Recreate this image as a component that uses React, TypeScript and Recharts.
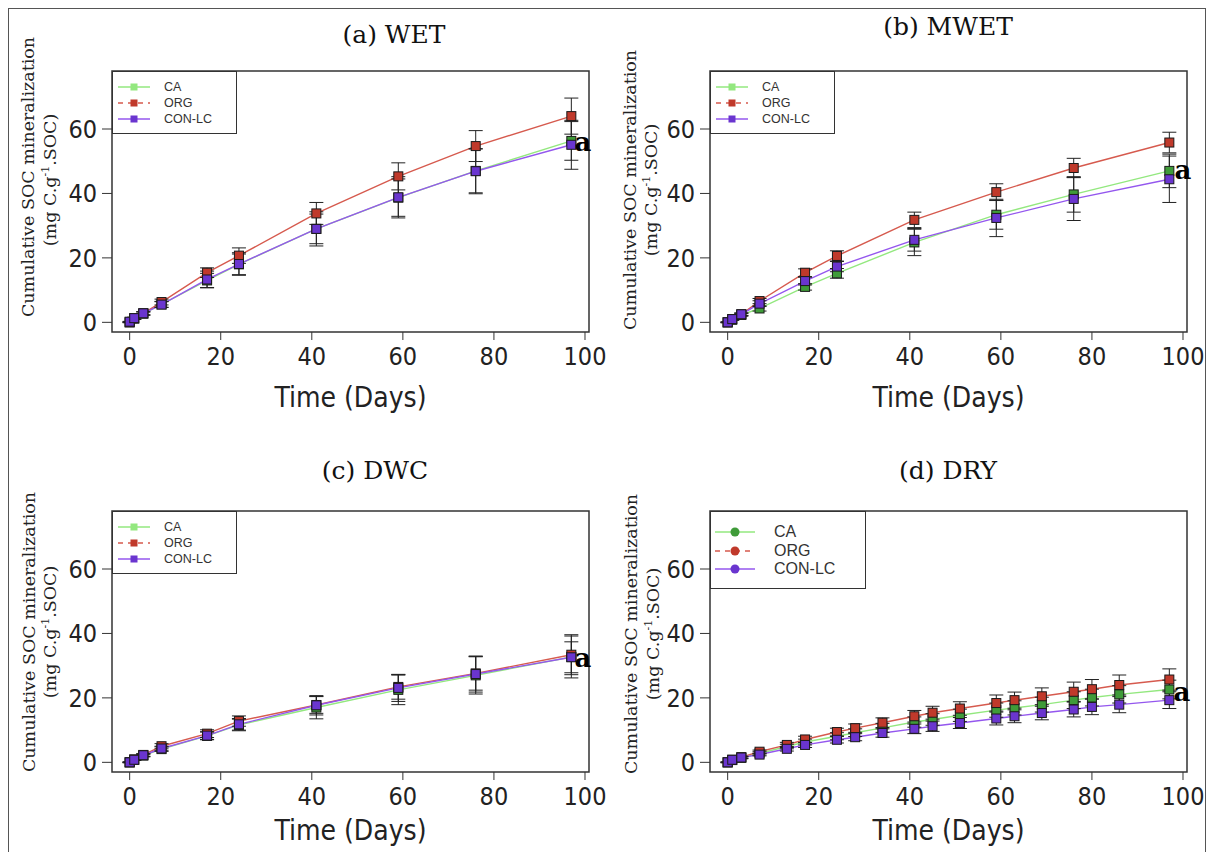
// Cumulative SOC mineralization — four panels (WET, MWET, DWC, DRY)
import React from 'react';
import { LineChart, Line, XAxis, YAxis, ErrorBar, ReferenceArea } from 'recharts';

const DAYS = [0, 1, 3, 7, 17, 24, 41, 59, 76, 97];
const DAYS_DRY = [0, 1, 3, 7, 13, 17, 24, 28, 34, 41, 45, 51, 59, 63, 69, 76, 80, 86, 97];
const X_TICKS = [0, 20, 40, 60, 80, 100];
const Y_TICKS = [0, 20, 40, 60];
const SERIES = ['CA', 'ORG', 'CON-LC'];

// (a) WET
const WET_CA = [0, 1.2, 2.7, 5.6, 13.0, 18.0, 29.0, 38.7, 47.0, 56.3];
const WET_ORG = [0, 1.2, 2.8, 6.3, 15.4, 20.7, 33.8, 45.3, 54.7, 64.0];
const WET_CON = [0.2, 1.3, 2.8, 5.5, 13.3, 18.1, 29.0, 38.8, 46.9, 55.1];
const WET_CA_ERR = [0.1, 0.3, 0.5, 0.9, 2.2, 3.2, 4.6, 5.8, 6.8, 6.0];
const WET_ORG_ERR = [0.1, 0.3, 0.5, 0.9, 1.5, 2.4, 3.4, 4.2, 4.8, 5.6];
const WET_CON_ERR = [0.1, 0.3, 0.5, 0.9, 2.6, 3.5, 5.3, 6.4, 7.0, 7.6];

// (b) MWET
const MWET_CA = [0, 0.8, 2.3, 4.3, 11.0, 15.2, 24.8, 33.4, 39.7, 47.0];
const MWET_ORG = [0, 1.0, 2.5, 6.6, 15.4, 20.6, 31.8, 40.4, 47.9, 55.8];
const MWET_CON = [0, 1.0, 2.5, 5.8, 12.8, 17.3, 25.6, 32.4, 38.3, 44.4];
const MWET_CA_ERR = [0.1, 0.2, 0.4, 0.8, 1.0, 1.5, 4.1, 4.5, 5.5, 5.2];
const MWET_ORG_ERR = [0.1, 0.2, 0.4, 0.8, 1.2, 1.6, 2.4, 2.6, 3.0, 3.2];
const MWET_CON_ERR = [0.1, 0.2, 0.4, 0.9, 1.2, 1.6, 3.5, 5.8, 6.7, 7.2];

// (c) DWC
const DWC_CA = [0, 0.8, 2.1, 4.1, 8.2, 11.6, 17.0, 22.5, 27.0, 32.7];
const DWC_ORG = [0, 0.9, 2.3, 5.0, 8.9, 12.8, 17.8, 23.4, 27.6, 33.4];
const DWC_CON = [0, 0.8, 2.2, 4.3, 8.3, 11.8, 17.7, 23.1, 27.4, 32.6];
const DWC_CA_ERR = [0.1, 0.2, 0.4, 0.7, 1.2, 1.8, 3.5, 4.6, 5.8, 6.5];
const DWC_ORG_ERR = [0.1, 0.2, 0.4, 0.8, 1.2, 1.6, 2.6, 3.8, 5.2, 6.2];
const DWC_CON_ERR = [0.1, 0.2, 0.4, 0.7, 1.2, 1.8, 3.0, 4.2, 5.6, 4.8];

// (d) DRY
const DRY_CA = [0, 0.7, 1.4, 2.8, 4.9, 6.3, 8.1, 9.2, 10.7, 12.5, 13.3, 14.6, 16.2, 16.9, 17.9, 19.3, 20.1, 21.1, 22.6];
const DRY_ORG = [0, 0.8, 1.6, 3.3, 5.4, 7.1, 9.4, 10.6, 12.3, 14.3, 15.4, 16.7, 18.4, 19.3, 20.5, 21.9, 22.7, 24.0, 25.7];
const DRY_CON = [0, 0.8, 1.5, 2.4, 4.2, 5.4, 7.0, 7.8, 9.1, 10.4, 11.2, 12.2, 13.6, 14.3, 15.3, 16.4, 17.2, 17.9, 19.3];
const DRY_CA_ERR = [0.1, 0.2, 0.3, 0.5, 0.7, 0.9, 1.1, 1.2, 1.4, 1.6, 1.8, 1.9, 2.2, 2.2, 2.3, 2.6, 2.6, 2.7, 2.9];
const DRY_ORG_ERR = [0.1, 0.2, 0.3, 0.5, 0.8, 1.0, 1.2, 1.3, 1.5, 1.8, 2.0, 2.1, 2.5, 2.5, 2.6, 3.0, 3.0, 3.1, 3.3];
const DRY_CON_ERR = [0.1, 0.2, 0.3, 0.4, 0.7, 0.8, 1.0, 1.1, 1.3, 1.5, 1.6, 1.7, 2.0, 2.0, 2.1, 2.3, 2.4, 2.5, 2.6];

const LINE_COLORS = ['#93e87f', '#d65a4e', '#9457ee'];
const FILL_COLORS = ['#3f9b39', '#c0392b', '#6a35cf'];
const NARROW = "'Liberation Sans Narrow', 'DejaVu Sans Condensed', 'Liberation Sans', sans-serif";
const SANS = "'Liberation Sans', Arial, sans-serif";
const SERIF = "'DejaVu Serif', serif";

const X_DOMAIN: [number, number] = [-3.88, 100.88];
const Y_DOMAIN: [number, number] = [-3, 78];

function buildRows(days: number[], ca: number[], org: number[], con: number[], caE: number[], orgE: number[], conE: number[]) {
  return days.map(function (d, i) {
    return { day: d, ca: ca[i], org: org[i], con: con[i], caErr: caE[i], orgErr: orgE[i], conErr: conE[i] };
  });
}

const PANELS = [
  {
    title: '(a) WET', titleX: 394, titleY: 34, left: 112, top: 71, xlab: 66,
    yl1: [29, 177], yl2: [50, 180], mark: [583, 142], big: false,
    rows: buildRows(DAYS, WET_CA, WET_ORG, WET_CON, WET_CA_ERR, WET_ORG_ERR, WET_CON_ERR),
  },
  {
    title: '(b) MWET', titleX: 948, titleY: 26, left: 710, top: 71, xlab: 66,
    yl1: [631, 190], yl2: [651, 190], mark: [1183, 170], big: false,
    rows: buildRows(DAYS, MWET_CA, MWET_ORG, MWET_CON, MWET_CA_ERR, MWET_ORG_ERR, MWET_CON_ERR),
  },
  {
    title: '(c) DWC', titleX: 375, titleY: 470, left: 112, top: 511, xlab: 59,
    yl1: [30, 632], yl2: [50, 632], mark: [583, 658], big: false,
    rows: buildRows(DAYS, DWC_CA, DWC_ORG, DWC_CON, DWC_CA_ERR, DWC_ORG_ERR, DWC_CON_ERR),
  },
  {
    title: '(d) DRY', titleX: 948, titleY: 470, left: 710, top: 511, xlab: 59,
    yl1: [632, 634], yl2: [653, 634], mark: [1182, 692], big: true,
    rows: buildRows(DAYS_DRY, DRY_CA, DRY_ORG, DRY_CON, DRY_CA_ERR, DRY_ORG_ERR, DRY_CON_ERR),
  },
];

const PLOT_W = 477;
const PLOT_H = 261;
const AXIS_W = 70;
const AXIS_H = 50;
const M_TOP = 10;
const M_RIGHT = 30;

function squareDot(fill: string) {
  return function (props: any) {
    const { cx, cy, index } = props;
    if (cx == null || cy == null) return <g key={'e' + index} />;
    return (
      <rect key={'sq' + index} x={cx - 4.5} y={cy - 4.5} width={9} height={9}
        fill={fill} stroke="#1a1a1a" strokeWidth={1} />
    );
  };
}

function Legend({ left, top, big }: { left: number; top: number; big: boolean }) {
  const w = big ? 156 : 125;
  const rowH = big ? 18.5 : 16;
  const fs = big ? 16 : 12.5;
  return (
    <div style={{
      position: 'absolute', left, top, width: w, height: big ? 78 : 63,
      border: '1.3px solid #333', background: '#fff', boxSizing: 'border-box',
      paddingTop: big ? 11 : 7, paddingLeft: big ? 4 : 5,
    }}>
      {SERIES.map(function (name, i) {
        return (
          <div key={name} style={{ height: rowH, display: 'flex', alignItems: 'center' }}>
            <svg width={big ? 40 : 32} height={12} style={{ display: 'block' }}>
              <line x1={0} x2={big ? 40 : 32} y1={6} y2={6} stroke={LINE_COLORS[i]}
                strokeWidth={1.5} strokeDasharray={i === 1 ? '5 5' : undefined} />
              {big
                ? <circle cx={20} cy={6} r={4.5} fill={FILL_COLORS[i]} />
                : <rect x={12.5} y={2.5} width={7} height={7} fill={i === 0 ? LINE_COLORS[0] : FILL_COLORS[i]} />}
            </svg>
            <span style={{ marginLeft: big ? 19 : 14, fontFamily: SANS, fontSize: fs, color: '#333' }}>{name}</span>
          </div>
        );
      })}
    </div>
  );
}

function RotLabel({ x, y, children }: { x: number; y: number; children: React.ReactNode }) {
  return (
    <div style={{
      position: 'absolute', left: x, top: y, transform: 'translate(-50%, -50%) rotate(-90deg)',
      whiteSpace: 'nowrap', fontFamily: SERIF, fontSize: 17.5, color: '#222', lineHeight: 1,
    }}>{children}</div>
  );
}

function Panel({ p }: { p: (typeof PANELS)[number] }) {
  const keys = ['ca', 'org', 'con'];
  return (
    <>
      <div style={{
        position: 'absolute', left: p.titleX, top: p.titleY, transform: 'translate(-50%, -50%)',
        fontFamily: SERIF, fontSize: 25, color: '#111', whiteSpace: 'nowrap',
      }}>{p.title}</div>
      <RotLabel x={p.yl1[0]} y={p.yl1[1]}>Cumulative SOC mineralization</RotLabel>
      <RotLabel x={p.yl2[0]} y={p.yl2[1]}>(mg C.g<sup style={{ fontSize: 11 }}>-1</sup>.SOC)</RotLabel>
      <div style={{ position: 'absolute', left: p.left - AXIS_W, top: p.top - M_TOP }}>
        <LineChart width={PLOT_W + AXIS_W + M_RIGHT} height={PLOT_H + M_TOP + AXIS_H} data={p.rows}
          margin={{ top: M_TOP, right: M_RIGHT, left: 0, bottom: 0 }}>
          <XAxis dataKey="day" type="number" domain={X_DOMAIN} allowDataOverflow ticks={X_TICKS}
            interval={0} height={AXIS_H} axisLine={false} tickSize={8} tickMargin={7}
            tickLine={{ stroke: '#333' }}
            tick={{ fill: '#222', fontSize: 25, fontFamily: NARROW, fontStretch: 'condensed' }} />
          <YAxis type="number" domain={Y_DOMAIN} allowDataOverflow ticks={Y_TICKS} interval={0}
            width={AXIS_W} axisLine={false} tickSize={10} tickMargin={5}
            tickLine={{ stroke: '#333' }}
            tick={{ fill: '#222', fontSize: 25, fontFamily: NARROW, fontStretch: 'condensed' }} />
          <ReferenceArea x1={X_DOMAIN[0]} x2={X_DOMAIN[1]} y1={Y_DOMAIN[0]} y2={Y_DOMAIN[1]}
            fill="none" stroke="#333" strokeWidth={1.5} fillOpacity={0} ifOverflow="visible" />
          {keys.map(function (k, i) {
            return (
              <Line key={k} type="linear" dataKey={k} stroke={LINE_COLORS[i]} strokeWidth={1.4}
                dot={squareDot(FILL_COLORS[i])} activeDot={false} isAnimationActive={false} />
            );
          })}
          {keys.map(function (k) {
            return (
              <Line key={k + 'e'} type="linear" dataKey={k} stroke="none" dot={false}
                activeDot={false} isAnimationActive={false} legendType="none">
                <ErrorBar dataKey={k + 'Err'} width={7} stroke="#222" strokeWidth={1} direction="y" />
              </Line>
            );
          })}
        </LineChart>
      </div>
      <div style={{
        position: 'absolute', left: p.left + PLOT_W / 2, top: p.top + PLOT_H + p.xlab,
        transform: 'translate(-50%, -50%)', fontFamily: NARROW, fontStretch: 'condensed',
        fontSize: 28, lineHeight: 1.1, color: '#222', whiteSpace: 'nowrap',
      }}>Time (Days)</div>
      <div style={{
        position: 'absolute', left: p.mark[0], top: p.mark[1], transform: 'translate(-50%, -50%)',
        fontFamily: SERIF, fontWeight: 'bold', fontSize: 26, color: '#000',
      }}>a</div>
      <Legend left={p.left} top={p.top} big={p.big} />
    </>
  );
}

export default function App() {
  return (
    <div style={{ position: 'fixed', left: 0, top: 0, width: 1210, height: 852, background: '#fff', overflow: 'hidden' }}>
      <div style={{
        position: 'absolute', left: 8, top: 8, width: 1198, height: 900,
        border: '1.5px solid #555', boxSizing: 'border-box',
      }} />
      {PANELS.map(function (p) {
        return <Panel key={p.title} p={p} />;
      })}
    </div>
  );
}
